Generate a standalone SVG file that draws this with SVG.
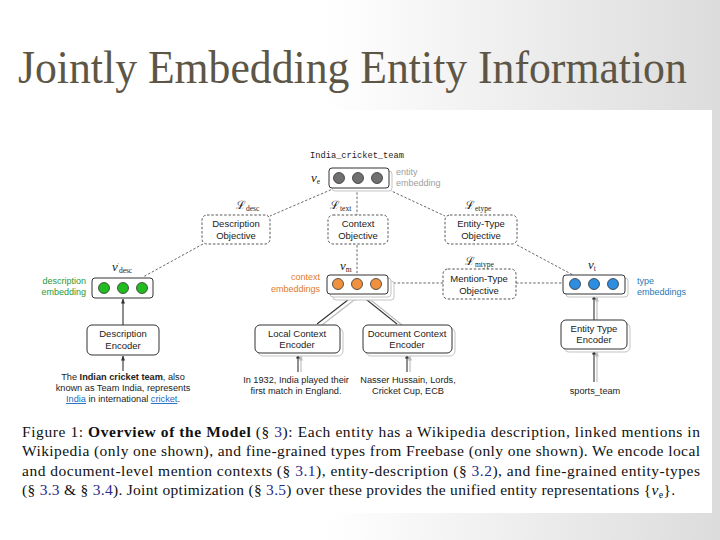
<svg xmlns="http://www.w3.org/2000/svg" width="720" height="540" viewBox="0 0 720 540">
<defs>
<linearGradient id="bg" x1="0" y1="0" x2="1" y2="0">
<stop offset="0" stop-color="#ffffff"/>
<stop offset="0.45" stop-color="#ffffff"/>
<stop offset="1" stop-color="#dcdcdc"/>
</linearGradient>
<marker id="ah" viewBox="0 0 10 10" refX="9" refY="5" markerWidth="5" markerHeight="5" orient="auto-start-reverse" markerUnits="userSpaceOnUse">
<path d="M0,1 L10,5 L0,9 z" fill="#333"/>
</marker>
<marker id="ahg" viewBox="0 0 10 10" refX="9" refY="5" markerWidth="5" markerHeight="5" orient="auto-start-reverse" markerUnits="userSpaceOnUse">
<path d="M0,1 L10,5 L0,9 z" fill="#bbb"/>
</marker>
<style>
.title{font-family:"Liberation Serif","DejaVu Serif",serif;font-size:47px;fill:#5d5646}
.sans{font-family:"Liberation Sans",Arial,sans-serif;font-size:9.5px;fill:#222}
.mono{font-family:"Liberation Mono","DejaVu Sans Mono",monospace;font-size:8.7px;fill:#222}
.math{font-family:"Liberation Serif","DejaVu Serif",serif;font-style:italic;font-size:13px;fill:#222}
.cal{font-family:"DejaVu Serif","Liberation Serif",serif;font-size:11.5px;fill:#222}
.sub{font-family:"Liberation Serif",serif;font-style:normal;font-size:7.5px}
.cap{font-family:"Liberation Serif","Times New Roman",serif;font-size:15.5px;fill:#111}
.ref{fill:#2a2a8a}
.obj{fill:#fff;stroke:#444;stroke-width:0.9;stroke-dasharray:2.5 1.8}
.enc{fill:#fff;stroke:#333;stroke-width:1}
.shadow{fill:#fff;stroke:#c4c4c4;stroke-width:1}
.emb{fill:#fff;stroke:#333;stroke-width:1}
.dash{fill:none;stroke:#444;stroke-width:0.8;stroke-dasharray:2.5 1.8}
.arr{fill:none;stroke:#333;stroke-width:1.1;marker-end:url(#ah)}
.arrg{fill:none;stroke:#bbb;stroke-width:1.1;marker-end:url(#ahg)}
</style>
</defs>
<rect x="0" y="0" width="720" height="540" fill="url(#bg)"/>
<rect x="0" y="110" width="712" height="403" fill="#fff"/>
<text class="title" transform="translate(18,83) scale(0.93,1)" x="0" y="0">Jointly Embedding Entity Information</text>

<g id="connectors">
<line class="dash" x1="335" y1="188" x2="270" y2="216"/>
<line class="dash" x1="357" y1="188" x2="357" y2="215"/>
<line class="dash" x1="385" y1="188" x2="445" y2="216"/>
<line class="dash" x1="203" y1="244" x2="143" y2="277"/>
<line class="dash" x1="357" y1="245" x2="357" y2="274"/>
<line class="dash" x1="517" y1="245" x2="573" y2="275"/>
<line class="dash" x1="389" y1="283" x2="443" y2="283"/>
<line class="dash" x1="516" y1="283" x2="563" y2="283"/>
<line class="arr" x1="123" y1="325" x2="123" y2="299"/>
<line class="arr" x1="123" y1="371" x2="123" y2="356"/>
<line class="arrg" x1="322" y1="325" x2="358" y2="297"/>
<line class="arr" x1="317" y1="324" x2="353" y2="296"/>
<line class="arrg" x1="402" y1="325" x2="367" y2="297"/>
<line class="arr" x1="397" y1="324" x2="362" y2="296"/>
<line class="arrg" x1="301" y1="372" x2="301" y2="356"/>
<line class="arr" x1="298" y1="372" x2="298" y2="354"/>
<line class="arrg" x1="410" y1="372" x2="410" y2="356"/>
<line class="arr" x1="407" y1="372" x2="407" y2="354"/>
<line class="arrg" x1="597" y1="321" x2="597" y2="297"/>
<line class="arr" x1="594" y1="320" x2="594" y2="295"/>
<line class="arrg" x1="597" y1="382" x2="597" y2="352"/>
<line class="arr" x1="594" y1="382" x2="594" y2="350"/>
</g>

<g id="entity-embedding">
<text class="mono" x="357" y="158" text-anchor="middle">India_cricket_team</text>
<rect class="shadow" x="332" y="171" width="60" height="20" rx="3"/>
<rect class="emb" x="329" y="168" width="60" height="20" rx="3"/>
<circle cx="339" cy="178" r="5.5" fill="#707070" stroke="#333" stroke-width="0.8"/>
<circle cx="358" cy="178" r="5.5" fill="#707070" stroke="#333" stroke-width="0.8"/>
<circle cx="377" cy="178" r="5.5" fill="#707070" stroke="#333" stroke-width="0.8"/>
<text class="math" x="311" y="182">v<tspan class="sub" dy="2">e</tspan></text>
<text class="sans" x="396" y="175" style="fill:#a0a0a0;font-size:9px">entity</text>
<text class="sans" x="396" y="186" style="fill:#a0a0a0;font-size:9px">embedding</text>
</g>

<g id="description-objective">
<text class="cal" x="236" y="209">ℒ<tspan class="sub" dy="2">desc</tspan></text>
<rect class="obj" x="202" y="215" width="68" height="29" rx="5"/>
<text class="sans" x="236" y="227" text-anchor="middle">Description</text>
<text class="sans" x="236" y="239" text-anchor="middle">Objective</text>
</g>

<g id="context-objective">
<text class="cal" x="330" y="209">ℒ<tspan class="sub" dy="2">text</tspan></text>
<rect class="obj" x="328" y="215" width="60" height="29" rx="5"/>
<text class="sans" x="358" y="227" text-anchor="middle">Context</text>
<text class="sans" x="358" y="239" text-anchor="middle">Objective</text>
</g>

<g id="entity-type-objective">
<text class="cal" x="465" y="209">ℒ<tspan class="sub" dy="2">etype</tspan></text>
<rect class="obj" x="445" y="215" width="72" height="29" rx="5"/>
<text class="sans" x="481" y="227" text-anchor="middle">Entity-Type</text>
<text class="sans" x="481" y="239" text-anchor="middle">Objective</text>
</g>

<g id="mention-type-objective">
<text class="cal" x="465" y="265">ℒ<tspan class="sub" dy="2">mtype</tspan></text>
<rect class="obj" x="443" y="269" width="73" height="30" rx="5"/>
<text class="sans" x="479" y="282" text-anchor="middle">Mention-Type</text>
<text class="sans" x="479" y="294" text-anchor="middle">Objective</text>
</g>

<g id="description-embedding">
<rect class="emb" x="92" y="278" width="61" height="20" rx="3"/>
<circle cx="104" cy="288" r="5.5" fill="#22bb22" stroke="#333" stroke-width="0.8"/>
<circle cx="123" cy="288" r="5.5" fill="#22bb22" stroke="#333" stroke-width="0.8"/>
<circle cx="142" cy="288" r="5.5" fill="#22bb22" stroke="#333" stroke-width="0.8"/>
<text class="math" x="112" y="271">v<tspan style="font-size:5px;font-style:normal" dy="-5">′</tspan><tspan class="sub" dy="7">desc</tspan></text>
<text class="sans" x="86" y="284" text-anchor="end" style="fill:#2a9a3a;font-size:9px">description</text>
<text class="sans" x="86" y="295" text-anchor="end" style="fill:#2a9a3a;font-size:9px">embedding</text>
</g>

<g id="context-embedding">
<rect class="shadow" x="333" y="281" width="61" height="19" rx="3"/>
<rect class="shadow" x="330" y="278" width="61" height="19" rx="3"/>
<rect class="emb" x="327" y="275" width="61" height="19" rx="3"/>
<circle cx="338" cy="284" r="5.5" fill="#f0913f" stroke="#333" stroke-width="0.8"/>
<circle cx="357" cy="284" r="5.5" fill="#f0913f" stroke="#333" stroke-width="0.8"/>
<circle cx="376" cy="284" r="5.5" fill="#f0913f" stroke="#333" stroke-width="0.8"/>
<text class="math" x="340" y="270">v<tspan class="sub" dy="2">m</tspan></text>
<text class="sans" x="320" y="280" text-anchor="end" style="fill:#e07b2c;font-size:9px">context</text>
<text class="sans" x="320" y="292" text-anchor="end" style="fill:#e07b2c;font-size:9px">embeddings</text>
</g>

<g id="type-embedding">
<rect class="shadow" x="566" y="278" width="62" height="19" rx="3"/>
<rect class="emb" x="563" y="275" width="62" height="19" rx="3"/>
<circle cx="575" cy="284" r="5.5" fill="#2d8de0" stroke="#333" stroke-width="0.8"/>
<circle cx="594" cy="284" r="5.5" fill="#2d8de0" stroke="#333" stroke-width="0.8"/>
<circle cx="613" cy="284" r="5.5" fill="#2d8de0" stroke="#333" stroke-width="0.8"/>
<text class="math" x="588" y="269">v<tspan class="sub" dy="2">t</tspan></text>
<text class="sans" x="637" y="284" style="fill:#2a7ab8;font-size:9px">type</text>
<text class="sans" x="637" y="295" style="fill:#2a7ab8;font-size:9px">embeddings</text>
</g>

<g id="description-encoder">
<rect class="enc" x="87" y="325" width="72" height="30" rx="5"/>
<text class="sans" x="123" y="337" text-anchor="middle">Description</text>
<text class="sans" x="123" y="349" text-anchor="middle">Encoder</text>
<text class="sans" x="123" y="380" text-anchor="middle" style="font-size:9.2px">The <tspan font-weight="bold">Indian cricket team</tspan>, also</text>
<text class="sans" x="123" y="391" text-anchor="middle" style="font-size:9.2px">known as Team India, represents</text>
<text class="sans" x="123" y="402" text-anchor="middle" style="font-size:9.2px"><tspan style="fill:#1a6ac0;text-decoration:underline">India</tspan> in international <tspan style="fill:#1a6ac0;text-decoration:underline">cricket</tspan>.</text>
</g>

<g id="local-context-encoder">
<rect class="shadow" x="258" y="328" width="85" height="28" rx="5"/>
<rect class="enc" x="255" y="325" width="85" height="28" rx="5"/>
<text class="sans" x="297" y="337" text-anchor="middle">Local Context</text>
<text class="sans" x="297" y="348" text-anchor="middle">Encoder</text>
<text class="sans" x="296" y="383" text-anchor="middle" style="font-size:9.2px">In 1932, India played their</text>
<text class="sans" x="296" y="394" text-anchor="middle" style="font-size:9.2px">first match in England.</text>
</g>

<g id="document-context-encoder">
<rect class="shadow" x="366" y="328" width="89" height="28" rx="5"/>
<rect class="enc" x="363" y="325" width="89" height="28" rx="5"/>
<text class="sans" x="407" y="337" text-anchor="middle">Document Context</text>
<text class="sans" x="407" y="348" text-anchor="middle">Encoder</text>
<text class="sans" x="408" y="383" text-anchor="middle" style="font-size:9.2px">Nasser Hussain, Lords,</text>
<text class="sans" x="408" y="394" text-anchor="middle" style="font-size:9.2px">Cricket Cup, ECB</text>
</g>

<g id="entity-type-encoder">
<rect class="shadow" x="564" y="323" width="66" height="29" rx="5"/>
<rect class="enc" x="561" y="320" width="66" height="29" rx="5"/>
<text class="sans" x="594" y="332" text-anchor="middle">Entity Type</text>
<text class="sans" x="594" y="343" text-anchor="middle">Encoder</text>
<text class="sans" x="595" y="394" text-anchor="middle" style="font-size:9.2px">sports_team</text>
</g>

<g id="caption">
<text class="cap" x="22" y="437" textLength="678">Figure 1: <tspan font-weight="bold">Overview of the Model</tspan> (§ <tspan class="ref">3</tspan>): Each entity has a Wikipedia description, linked mentions in</text>
<text class="cap" x="22" y="456" textLength="678">Wikipedia (only one shown), and fine-grained types from Freebase (only one shown). We encode local</text>
<text class="cap" x="22" y="476" textLength="678">and document-level mention contexts (§ <tspan class="ref">3.1</tspan>), entity-description (§ <tspan class="ref">3.2</tspan>), and fine-grained entity-types</text>
<text class="cap" x="22" y="495" textLength="653">(§ <tspan class="ref">3.3</tspan> &amp; § <tspan class="ref">3.4</tspan>). Joint optimization (§ <tspan class="ref">3.5</tspan>) over these provides the unified entity representations {<tspan font-style="italic">v</tspan><tspan font-size="10" dy="3">e</tspan><tspan dy="-3">}.</tspan></text>
</g>
</svg>
